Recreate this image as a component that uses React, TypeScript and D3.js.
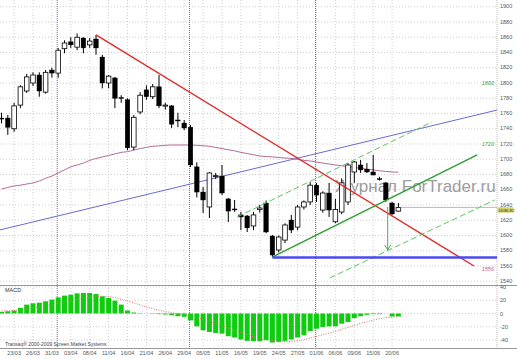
import React from "react";
import * as d3 from "d3";

// candles, daily
const opens = [1754,1754,1740,1771,1789.5,1800,1810.5,1788,1817,1813,1845,1854,1847,1859,1850,1857.7,1834,1800,1806.6,1781,1778,1716,1762,1791,1782,1795,1769.8,1770,1751.5,1747.5,1742,1690,1657,1637.4,1678,1678,1648,1634.8,1627,1625.6,1612.5,1634,1642.6,1599.3,1581,1594,1620.3,1611,1637.4,1644,1666,1633.4,1655.7,1618,1630.8,1644,1683.3,1692.5,1687,1683.3,1674.5,1669,1642.6,1632];
const highs = [1761,1758,1774,1797,1812,1814,1814,1817,1820,1846,1856,1860,1865,1860,1859,1863,1837,1810.5,1808,1784,1780,1758,1788,1797,1798.7,1810.5,1774,1771,1761,1751.5,1745,1696,1663.6,1683,1682,1692.5,1649,1646.6,1631,1627,1630.8,1640,1646,1600.7,1600,1616,1627,1640,1646,1670,1669,1658,1669,1648,1675,1695,1697.7,1699,1695,1705.6,1677,1670,1644,1642.6];
const lows = [1747,1732,1736,1767,1787,1796,1782,1786,1807,1807,1839,1846,1843,1839,1846,1837,1793,1793,1767,1774,1712,1712,1759,1778,1779,1767,1765,1741,1742,1738,1690,1650,1629.5,1623,1674,1653,1617.7,1631,1607,1604.6,1607,1630,1603,1571.8,1578,1590,1603,1607,1634,1640,1644,1630,1624.3,1616,1628,1640,1669,1682,1682,1679,1672,1644,1627,1631];
const closes = [1753.5,1742,1770,1795,1808,1810.5,1789.5,1814,1813,1843,1852.5,1850,1860,1846,1855,1846,1800,1809,1780,1780,1715,1755,1784,1782,1795,1770,1771,1746,1751,1741,1692.5,1657,1646.6,1682,1678.5,1655.7,1632,1634,1624.3,1610,1627,1636,1604.6,1574.4,1598,1613.8,1607.2,1637.4,1644,1666,1653,1655.7,1633.4,1634,1669,1692.5,1696.4,1686,1683.3,1679.3,1674,1646.6,1628.2,1636.8];

// moving average (pink curve)
const maValues = [1661,1663,1665,1666,1667.5,1669,1671.5,1675,1678,1682,1686,1690,1692.5,1695,1698.5,1701,1703,1705,1707,1709,1710,1712,1714,1715.5,1717,1717.5,1718.3,1718.7,1718.7,1718.7,1718.7,1718.3,1717.7,1717,1715.5,1714,1712.5,1711,1709,1707.5,1706,1704.3,1703.6,1703,1702.3,1701.6,1701.2,1699.7,1698.6,1697.7,1696.4,1695,1693.8,1692.5,1691.4,1690.5,1689.2,1688.1,1687,1686,1684.9,1684,1683.3,1683];

// MACD
const macdHist = [2.5,3.4,4.5,8.5,13.4,15.4,16.4,18.4,21,24.4,27,28.4,30.4,31,31,29.4,25.9,23.4,19.4,13.4,4.5,1.5,0.5,0.2,-0.5,-1,-1.5,-2.5,-4,-5,-10.4,-19.4,-25.4,-27.9,-29.4,-30.4,-34.3,-36.3,-39.3,-41.3,-41.8,-41.8,-40.3,-43.8,-42.8,-41.3,-39.3,-36.3,-32.8,-26.4,-22.9,-20.4,-19.4,-19.4,-15.4,-12.9,-7,-4,-2,-1,-1,0,-4.5,-4.5];
const macdSignal = [4,4,4.5,5.5,7,8.5,10,12,13.5,15.5,17.5,19.5,21.5,23,24.5,25.5,26,25.5,24,21.5,19,16,13,10,7.5,5,3,1.5,0,-1.5,-3.5,-6,-9,-12,-15,-18.5,-22,-25.5,-29,-32,-35,-37.5,-39.5,-41,-42,-42.5,-42,-41,-39.5,-37,-34.5,-32,-29.5,-27,-24,-21,-18,-15,-12.5,-10,-8,-6.5,-5.5,-5];

// axis labels
const dateLabels = ["23/03","26/03","31/03","03/04","08/04","11/04","16/04","21/04","26/04","29/04","05/05","11/05","16/05","19/05","24/05","27/05","01/06","06/06","09/06","15/06","20/06"];
const dateIndex = [2,5,8,11,14,17,20,23,26,29,32,35,38,41,44,47,50,53,56,59,62];
const monthStarts = [9, 30, 50];
const priceTicks = [1540,1560,1580,1600,1620,1640,1660,1680,1700,1720,1740,1760,1780,1800,1820,1840,1860,1880,1900];
const macdTicks = [40, 20, 0, -20, -40];

// drawn objects: [index, price]
const redLine = [[15, 1863], [75, 1560]];
const greenLine = [[43, 1571.8], [75.5, 1705.6]];
const greenUpper = [[37.4, 1624.3], [68.3, 1748.8]];
const greenLower = [[52.1, 1544.3], [78.3, 1646.6]];
const blueLine = [[-0.3, 1607.2], [78.7, 1764.6]];
const supportLevel = { from: 43, to: 78.7, price: 1571.2 };
const arrow = { at: 61.3, from: 1637.4, to: 1581 };
const lastPrice = 1636.82;
const levelTags = [
  { price: 1800, text: "1800", color: "#3aa63a" },
  { price: 1720, text: "1720", color: "#3aa63a" },
  { price: 1556, text: "1556", color: "#d06080" },
];

const W = 517;
const H = 359;
const axisX = 497;
const mainBottom = 285;
const font = "Liberation Sans, Arial, sans-serif";

export default function App() {
  const x = d3.scaleLinear().domain([0, 63]).range([1.5, 398.4]);
  const y = d3.scaleLinear().domain([1560, 1720]).range([266, 144]);
  const ym = d3.scaleLinear().domain([-40, 40]).range([340, 287]);

  const maLine = d3
    .line<number>()
    .x((_, i) => x(i))
    .y((d) => y(d))
    .curve(d3.curveMonotoneX);
  const sigLine = d3
    .line<number>()
    .x((_, i) => x(i))
    .y((d) => ym(d))
    .curve(d3.curveMonotoneX);

  const seg = (pts: number[][]) => ({
    x1: x(pts[0][0]),
    y1: y(pts[0][1]),
    x2: x(pts[1][0]),
    y2: y(pts[1][1]),
  });

  const bodyW = 4.6;
  const barW = 5;
  const lastY = y(lastPrice);

  return (
    <div style={{ position: "absolute", left: 0, top: 0 }}>
      <svg width={W} height={H} style={{ display: "block", background: "#fff" }}>
        <defs>
          <clipPath id="mainClip">
            <rect x={0} y={0} width={axisX} height={mainBottom} />
          </clipPath>
        </defs>

        {/* grid */}
        <g stroke="#cfcfcf" strokeDasharray="1,2" strokeWidth={1}>
          {dateIndex.map((d) => (
            <line key={"v" + d} x1={x(d)} x2={x(d)} y1={0} y2={348} />
          ))}
          {priceTicks.map((p) => (
            <line key={"h" + p} x1={0} x2={axisX} y1={y(p)} y2={y(p)} />
          ))}
          {macdTicks.map((m) => (
            <line key={"m" + m} x1={0} x2={axisX} y1={ym(m)} y2={ym(m)} />
          ))}
        </g>
        <g stroke="#7a6a9a" strokeDasharray="1,1" strokeWidth={1}>
          {monthStarts.map((d) => (
            <line key={"ms" + d} x1={x(d) - 1} x2={x(d) - 1} y1={0} y2={348} />
          ))}
        </g>
        <line x1={axisX} x2={axisX} y1={0} y2={348} stroke="#bbb" strokeDasharray="1,1" />

        {/* watermark */}
        <text x={335} y={192} fontFamily={font} fontSize={17} fill="#8c8c8c" opacity={0.85}>
          Журнал ForTrader.ru
        </text>

        <g clipPath="url(#mainClip)">
          {/* indicators */}
          <path d={maLine(maValues) || ""} fill="none" stroke="#b56a98" strokeWidth={1} />
          <line {...seg(blueLine)} stroke="#6a6ad0" strokeWidth={1} />

          {/* candles */}
          {opens.map((o, i) => {
            const c = closes[i];
            const up = c >= o;
            const top = y(Math.max(o, c));
            const bot = y(Math.min(o, c));
            return (
              <g key={"c" + i}>
                <line x1={x(i)} x2={x(i)} y1={y(highs[i])} y2={y(lows[i])} stroke="#000" strokeWidth={1} />
                <rect
                  x={x(i) - bodyW / 2}
                  y={top}
                  width={bodyW}
                  height={Math.max(bot - top, 1)}
                  fill={up ? "#fff" : "#000"}
                  stroke="#000"
                  strokeWidth={up ? 0.8 : 0.4}
                />
              </g>
            );
          })}

          {/* drawings */}
          <line {...seg(redLine)} stroke="#e02a2a" strokeWidth={1.4} />
          <line {...seg(greenLine)} stroke="#2f9e2f" strokeWidth={1.4} />
          <line {...seg(greenUpper)} stroke="#5cc65c" strokeWidth={1} strokeDasharray="6,3" />
          <line {...seg(greenLower)} stroke="#5cc65c" strokeWidth={1} strokeDasharray="6,3" />
          <line
            x1={x(supportLevel.from)}
            x2={x(supportLevel.to)}
            y1={y(supportLevel.price)}
            y2={y(supportLevel.price)}
            stroke="#4a4af2"
            strokeWidth={2.6}
          />
          <line x1={x(arrow.at)} x2={x(arrow.at)} y1={y(arrow.from)} y2={y(arrow.to)} stroke="#4caf4c" strokeWidth={1} />
          <path
            d={`M${x(arrow.at) - 3},${y(arrow.to) - 5} L${x(arrow.at)},${y(arrow.to)} L${x(arrow.at) + 3},${y(arrow.to) - 5}`}
            fill="none"
            stroke="#4caf4c"
            strokeWidth={1}
          />
          <line x1={x(63) + 2} x2={axisX} y1={lastY} y2={lastY} stroke="#aaa" strokeWidth={0.8} />
        </g>

        {/* level tags */}
        {levelTags.map((t) => (
          <text key={t.text} x={494} y={y(t.price) + 2} textAnchor="end" fontFamily={font} fontSize={5.5} fill={t.color} fontStyle="italic">
            {t.text}
          </text>
        ))}

        {/* price axis */}
        <g fontFamily={font} fontSize={5.5} fill="#555">
          {priceTicks.map((p) => (
            <text key={"pt" + p} x={500} y={y(p) + 1.5}>
              {p}
            </text>
          ))}
        </g>
        <rect x={497.5} y={lastY - 0.2} width={16} height={5.4} fill="#d2d26a" />
        <text x={498.5} y={lastY + 4.2} fontFamily={font} fontSize={4.4} fill="#333">
          {lastPrice.toFixed(2)}
        </text>

        {/* panel separators */}
        <line x1={0} x2={W} y1={mainBottom + 0.5} y2={mainBottom + 0.5} stroke="#999" />
        <line x1={0} x2={W} y1={348.5} y2={348.5} stroke="#999" />

        {/* MACD */}
        <g fill="#10cc10">
          {macdHist.map((v, i) => (
            <rect
              key={"b" + i}
              x={x(i) - barW / 2}
              y={Math.min(ym(v), ym(0))}
              width={barW}
              height={Math.abs(ym(v) - ym(0))}
            />
          ))}
        </g>
        <path d={sigLine(macdSignal) || ""} fill="none" stroke="#e07070" strokeWidth={1} strokeDasharray="1,1.5" />
        <text x={5} y={292} fontFamily={font} fontSize={5.5} fill="#333">
          MACD
        </text>
        <g fontFamily={font} fontSize={5.5} fill="#555">
          {macdTicks.map((m) => (
            <text key={"mt" + m} x={500} y={ym(m) + 2}>
              {m}
            </text>
          ))}
        </g>
        <text x={5} y={346} fontFamily={font} fontSize={5} fill="#444">
          Transaq® 2000-2009 Screen Market Systems
        </text>

        {/* date axis */}
        <g fontFamily={font} fontSize={5.5} fill="#555" textAnchor="middle">
          {dateLabels.map((d, k) => (
            <text key={d} x={x(dateIndex[k])} y={355}>
              {d}
            </text>
          ))}
        </g>
      </svg>
    </div>
  );
}
